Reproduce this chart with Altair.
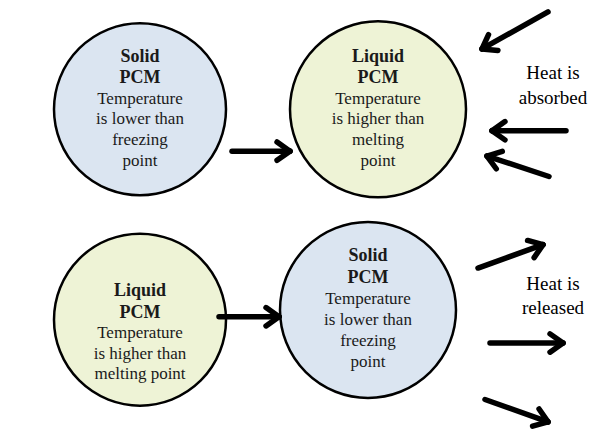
import math
import altair as alt
import pandas as pd

# ---- node data (diagram "points") ----
node_x = [140, 378, 140, 368]
node_y = [112, 112, 328, 318]
node_r = [86, 88, 86, 88]
node_phase = ["Solid", "Liquid", "Liquid", "Solid"]

# ---- text lines ----
text_lines = [
    "Solid", "PCM", "Temperature", "is lower than", "freezing", "point",
    "Liquid", "PCM", "Temperature", "is higher than", "melting", "point",
    "Liquid", "PCM", "Temperature", "is higher than", "melting point",
    "Solid", "PCM", "Temperature", "is lower than", "freezing", "point",
    "Heat is", "absorbed", "Heat is", "released",
]
text_x = [140] * 6 + [378] * 6 + [140] * 5 + [368] * 6 + [553, 553, 553, 553]
text_y = [58, 80, 101, 122, 144, 165,
          58, 80, 101, 122, 144, 165,
          299, 321, 342, 363, 384,
          263, 285, 307, 328, 350, 371,
          75, 100, 291, 316]
text_bold = ([1, 1, 0, 0, 0, 0] * 2 + [1, 1, 0, 0, 0] + [1, 1, 0, 0, 0, 0]
             + [2, 2, 2, 2])

# ---- arrows: start -> end (head at end) ----
arrow_x1 = [232, 548, 566, 549, 219, 478, 490, 485]
arrow_y1 = [155, 12, 134, 181, 325, 275, 352, 410]
arrow_x2 = [290, 482, 492, 487, 279, 543, 563, 548]
arrow_y2 = [155, 50, 134, 160, 325, 251, 352, 433]

X0, X1, Y0, Y1 = 8, 598, 8, 430
W, H = X1 - X0, Y1 - Y0

xs = alt.Scale(domain=[X0, X1], nice=False, zero=False)
ys = alt.Scale(domain=[Y1, Y0], nice=False, zero=False)

FONT = "Liberation Serif"

nodes = pd.DataFrame({
    "x": node_x, "y": node_y, "phase": node_phase,
    "size": [(2 * r) ** 2 for r in node_r],
})
circles = alt.Chart(nodes).mark_point(
    shape="circle", filled=True, stroke="black", strokeWidth=2.5, opacity=1
).encode(
    x=alt.X("x:Q", scale=xs, axis=None),
    y=alt.Y("y:Q", scale=ys, axis=None),
    size=alt.Size("size:Q", scale=None, legend=None),
    fill=alt.Fill("phase:N", scale=alt.Scale(domain=["Solid", "Liquid"],
                                             range=["#dbe5f1", "#eef3d6"]),
                  legend=None),
)

tdf = pd.DataFrame({"t": text_lines, "x": text_x, "y": text_y, "b": text_bold})
def text_layer(df, weight, size, color="#1a1a1a"):
    return alt.Chart(df).mark_text(
        font=FONT, fontSize=size, fontWeight=weight,
        color=color, align="center", baseline="middle"
    ).encode(
        x=alt.X("x:Q", scale=xs, axis=None),
        y=alt.Y("y:Q", scale=ys, axis=None),
        text="t:N",
    )
bold_txt = text_layer(tdf[tdf.b == 1], "bold", 18)
reg_txt = text_layer(tdf[tdf.b == 0], "normal", 17)
heat_txt = text_layer(tdf[tdf.b == 2], "normal", 19, "#000000")

# arrow segments (shaft + two head strokes)
segs = []
head_len, head_ang = 16, math.radians(36)
for x1, y1, x2, y2 in zip(arrow_x1, arrow_y1, arrow_x2, arrow_y2):
    segs.append({"x": x1, "y": y1, "x2": x2, "y2": y2, "k": "shaft"})
    a = math.atan2(y1 - y2, x1 - x2)
    for s in (-1, 1):
        segs.append({"x": x2, "y": y2,
                     "x2": x2 + head_len * math.cos(a + s * head_ang),
                     "y2": y2 + head_len * math.sin(a + s * head_ang),
                     "k": "head"})
sdf = pd.DataFrame(segs)
arrows = alt.Chart(sdf).mark_rule(color="black", strokeWidth=5.5, strokeCap="round").encode(
    x=alt.X("x:Q", scale=xs, axis=None),
    y=alt.Y("y:Q", scale=ys, axis=None),
    x2="x2:Q", y2="y2:Q",
)

chart = alt.layer(circles, bold_txt, reg_txt, heat_txt, arrows).properties(
    width=W, height=H, padding=0,
    autosize=alt.AutoSizeParams(type="fit", contains="padding"),
    background="white",
).configure_view(stroke=None)

chart.save("out.html", embed_options={"renderer": "svg", "actions": False})
